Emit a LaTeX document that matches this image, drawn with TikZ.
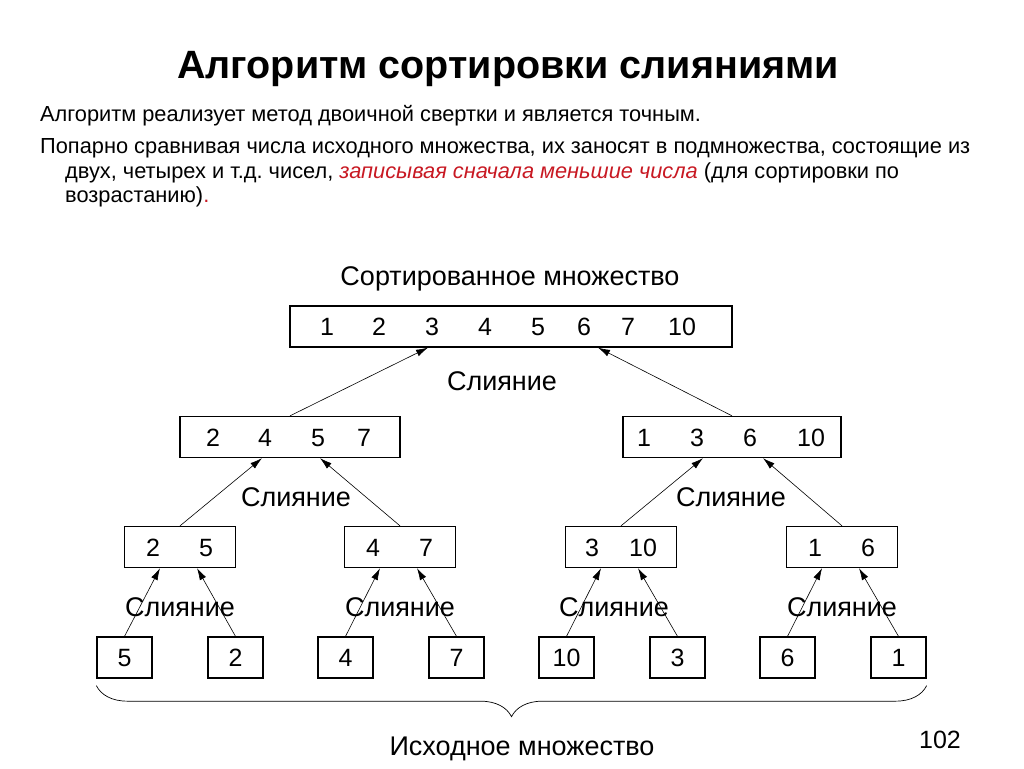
\documentclass[tikz,border=0pt]{standalone}
\usepackage{fontspec}
\setmainfont{Liberation Sans}
\usetikzlibrary{arrows.meta,decorations.pathreplacing}
\definecolor{accentred}{RGB}{200,25,35}
\frenchspacing

\begin{document}
\begin{tikzpicture}[x=1pt,y=-1pt,>={Latex[length=12pt,width=7pt]},
    box/.style={draw,line width=1.3pt,inner sep=0pt,minimum height=41pt},
    leaf/.style={box,minimum width=55pt},
    pair/.style={box,minimum width=111pt},
    num/.style={font=\fontsize{25}{25}\selectfont,anchor=base,inner sep=0pt},
    merge/.style={font=\fontsize{27}{27}\selectfont,anchor=base},
    body/.style={font=\fontsize{21.8}{24}\selectfont,anchor=base west,inner sep=0pt},
    link/.style={->,line width=0.6pt}]

    \useasboundingbox (0,0) rectangle (1024,768);

    % Heading
    \node[anchor=base,font=\bfseries\fontsize{39.5}{40}\selectfont] (title) at (508,78) {Алгоритм сортировки слияниями};
    \node[body] (p1) at (40,121) {Алгоритм реализует метод двоичной свертки и является точным.};
    \node[body] (p2) at (40,153) {Попарно сравнивая числа исходного множества, их заносят в подмножества, состоящие из};
    \node[body] (p3) at (65,178) {двух, четырех и т.д. чисел, \textcolor{accentred}{\itshape записывая сначала меньшие числа} (для сортировки по};
    \node[body] (p4) at (65,202) {возрастанию)\textcolor{accentred}{.}};

    % Nodes
    \node[merge] (sorted) at (510,285) {Сортированное множество};
    \node[box,minimum width=442pt] (all) at (511,326.5) {};
    \node[box,minimum width=220pt] (left) at (290,437) {};
    \node[box,minimum width=218pt] (right) at (732,437) {};
    \node[pair] (ll) at (180,547) {};
    \node[pair] (lr) at (400,547) {};
    \node[pair] (rl) at (621,547) {};
    \node[pair] (rr) at (842,547) {};
    \node[leaf] (b1) at (124.5,657.5) {};
    \node[leaf] (b2) at (235.5,657.5) {};
    \node[leaf] (b3) at (345.5,657.5) {};
    \node[leaf] (b4) at (456.5,657.5) {};
    \node[leaf] (b5) at (566.5,657.5) {};
    \node[leaf] (b6) at (677.5,657.5) {};
    \node[leaf] (b7) at (787.5,657.5) {};
    \node[leaf] (b8) at (898.5,657.5) {};

    % Numbers
    \foreach \x/\n in {327/1,379/2,432/3,485/4,538/5,584/6,628/7,682/10}
        \node[num] at (\x,335.5) {\n};
    \foreach \x/\n in {213/2,265/4,318/5,364/7,644/1,697/3,750/6,811/10}
        \node[num] at (\x,446) {\n};
    \foreach \x/\n in {153/2,206/5,373/4,426/7,592/3,643/10,815/1,868/6}
        \node[num] at (\x,556) {\n};
    \foreach \i/\n in {1/5,2/2,3/4,4/7,5/10,6/3,7/6,8/1}
        \node[num] at ([yshift=-9pt]b\i.center) {\n};

    % Merge labels
    \node[merge] (m0) at (502,390) {Слияние};
    \node[merge] (m1) at (296,506) {Слияние};
    \node[merge] (m2) at (731,506) {Слияние};
    \foreach \x [count=\i] in {180,400,614,842}
        \node[merge] (n\i) at (\x,616) {Слияние};

    % Edges
    \path[link]
    (left.north) edge ([xshift=-83pt]all.south)
    (right.north) edge ([xshift=87pt]all.south)
    (ll.north) edge ([xshift=-28pt]left.south)
    (lr.north) edge ([xshift=30pt]left.south)
    (rl.north) edge ([xshift=-29pt]right.south)
    (rr.north) edge ([xshift=31pt]right.south)
    (b1.north) edge ([xshift=-20pt]ll.south)
    (b2.north) edge ([xshift=17pt]ll.south)
    (b3.north) edge ([xshift=-20pt]lr.south)
    (b4.north) edge ([xshift=17pt]lr.south)
    (b5.north) edge ([xshift=-20pt]rl.south)
    (b6.north) edge ([xshift=17pt]rl.south)
    (b7.north) edge ([xshift=-20pt]rr.south)
    (b8.north) edge ([xshift=17pt]rr.south);

    % Brace
    \draw[line width=0.7pt,decorate,decoration={brace,mirror,amplitude=31pt}]
        ([yshift=-7pt]b1.south west) -- ([yshift=-7pt]b8.south east);
    \node[merge] (source) at (522,755) {Исходное множество};
    \node[num] (page) at (940,748) {102};
\end{tikzpicture}
\end{document}
